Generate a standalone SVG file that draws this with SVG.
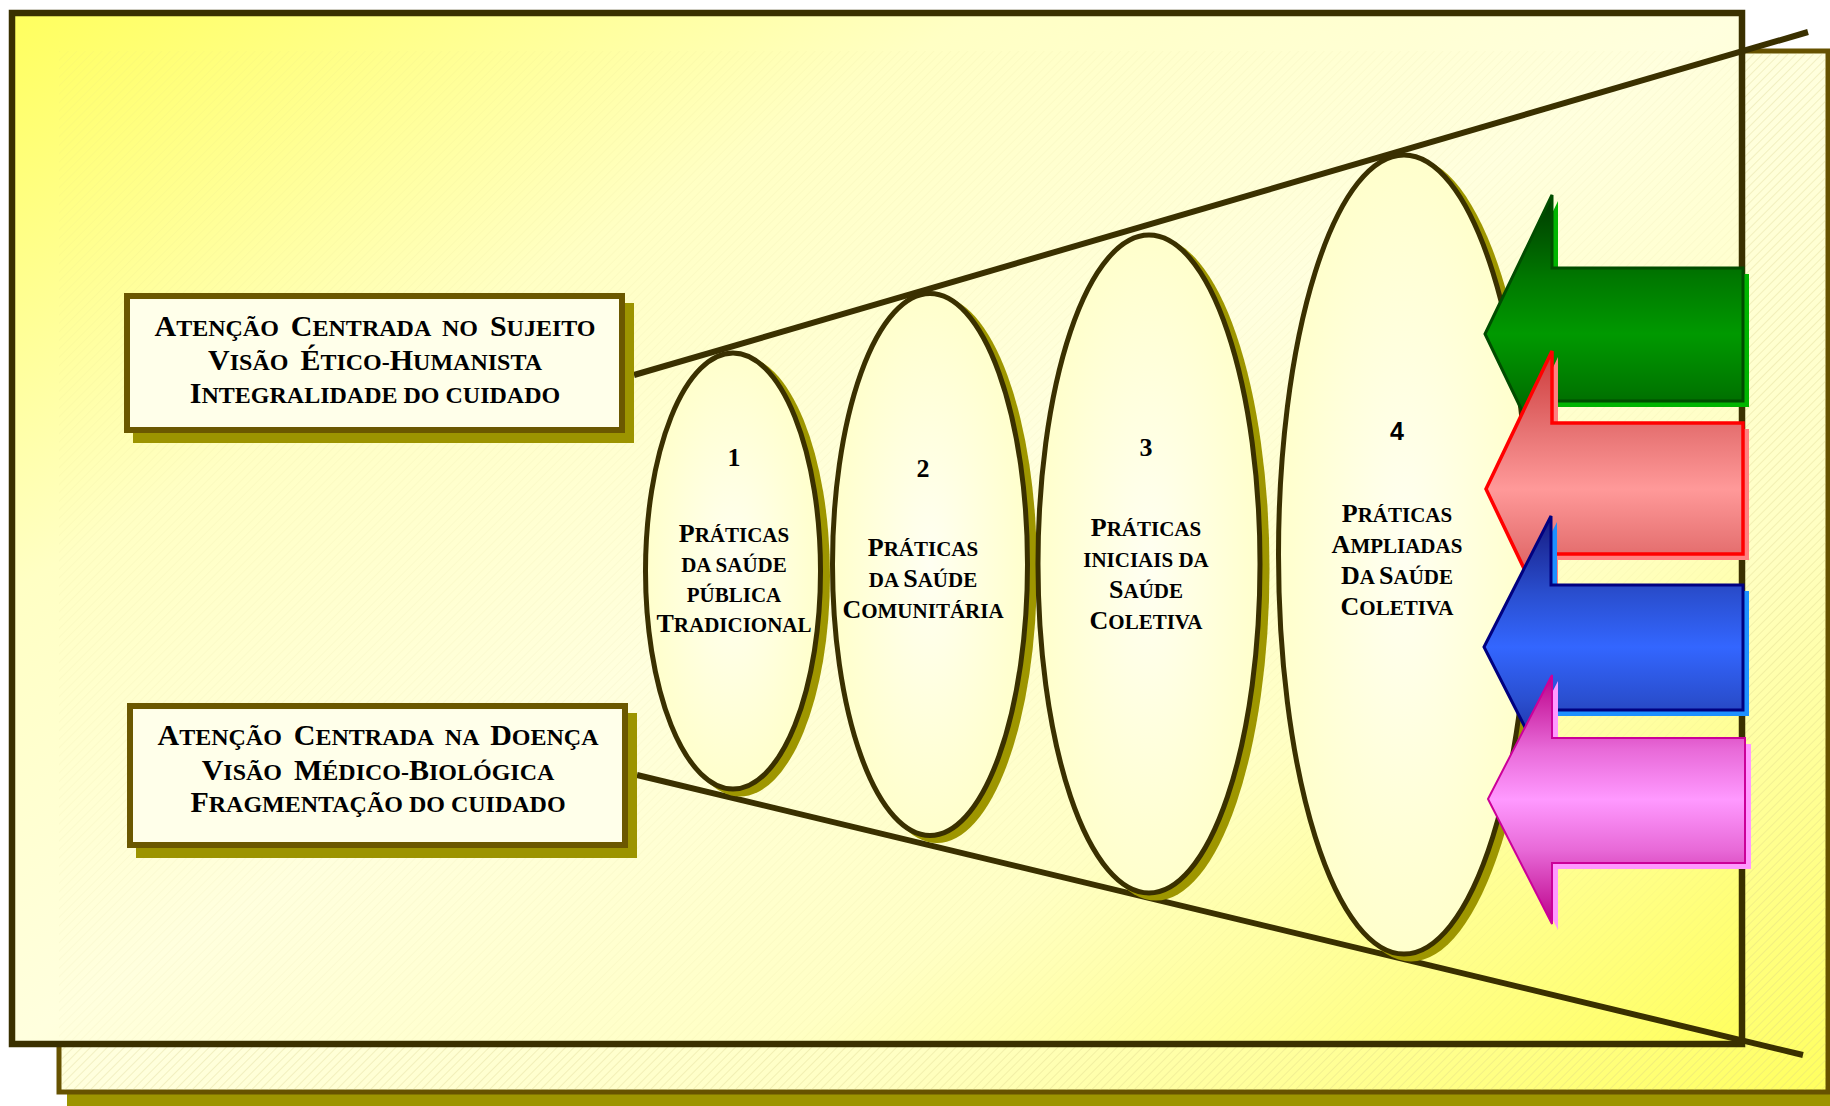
<svg xmlns="http://www.w3.org/2000/svg" width="1830" height="1106" viewBox="0 0 1830 1106">
<style>
.t{font-family:"Liberation Serif","Times New Roman",serif;font-weight:bold;fill:#000}
.bt{font-size:30px}
.bt .s{font-size:24px}
.et{font-size:26px}
.et .s{font-size:21px}
.num4{font-family:"Liberation Sans",Arial,sans-serif;font-weight:bold;font-size:25px;fill:#000}
.box{fill:#ffffea;stroke:#6b5800;stroke-width:6}
.bsh{fill:#9c9400}
.ell{fill:url(#eg);stroke:#3a3000;stroke-width:5}
.esh{fill:#9e9600}
.cone{stroke:#3a3000;stroke-width:6;fill:none;stroke-linecap:butt}
</style>
<defs>
<linearGradient id="bg" x1="0" y1="0" x2="1" y2="1">
<stop offset="0" stop-color="#ffff5e"/>
<stop offset="0.28" stop-color="#ffffc4"/>
<stop offset="0.5" stop-color="#ffffde"/>
<stop offset="0.72" stop-color="#ffffc4"/>
<stop offset="1" stop-color="#ffff5e"/>
</linearGradient>
<radialGradient id="eg" cx="0.5" cy="0.5" r="0.5">
<stop offset="0" stop-color="#fffff2"/>
<stop offset="1" stop-color="#ffffcc"/>
</radialGradient>
<pattern id="hatch" width="6" height="6" patternUnits="userSpaceOnUse" patternTransform="rotate(45)">
<line x1="0" y1="0" x2="0" y2="6" stroke="#d4cc84" stroke-width="1"/>
</pattern>
<linearGradient id="gG" x1="0" y1="0" x2="0" y2="1">
<stop offset="0" stop-color="#003800"/>
<stop offset="0.3" stop-color="#007800"/>
<stop offset="0.5" stop-color="#009900"/>
<stop offset="0.7" stop-color="#007800"/>
<stop offset="1" stop-color="#003800"/>
</linearGradient>
<linearGradient id="gR" x1="0" y1="0" x2="0" y2="1">
<stop offset="0" stop-color="#cc3a3a"/>
<stop offset="0.3" stop-color="#e87575"/>
<stop offset="0.5" stop-color="#ff9999"/>
<stop offset="0.7" stop-color="#e87575"/>
<stop offset="1" stop-color="#cc3a3a"/>
</linearGradient>
<linearGradient id="gB" x1="0" y1="0" x2="0" y2="1">
<stop offset="0" stop-color="#161a80"/>
<stop offset="0.3" stop-color="#2a4fd0"/>
<stop offset="0.5" stop-color="#3366ff"/>
<stop offset="0.7" stop-color="#2a4fd0"/>
<stop offset="1" stop-color="#161a80"/>
</linearGradient>
<linearGradient id="gP" x1="0" y1="0" x2="0" y2="1">
<stop offset="0" stop-color="#bb0088"/>
<stop offset="0.3" stop-color="#e86ad8"/>
<stop offset="0.5" stop-color="#ff99ff"/>
<stop offset="0.7" stop-color="#e86ad8"/>
<stop offset="1" stop-color="#bb0088"/>
</linearGradient>
</defs>

<g id="background">
<rect x="67" y="60" width="1780" height="1060" fill="#9c9400"/>
<rect x="59" y="51" width="1769" height="1041" fill="url(#bg)" stroke="#665200" stroke-width="5"/>
<rect x="61.5" y="53.5" width="1764" height="1036" fill="url(#hatch)" opacity="0.6"/>
<rect x="12" y="13" width="1730" height="1031" fill="url(#bg)" stroke="#3a3000" stroke-width="6.5"/>
<rect x="59" y="51" width="1680" height="990" fill="url(#hatch)" opacity="0.18"/>
</g>

<g id="connectors">
<line class="cone" x1="634" y1="375" x2="1808" y2="32"/>
<line class="cone" x1="637" y1="775" x2="1803" y2="1055"/>
</g>

<g id="box-sujeito">
<rect class="bsh" x="133" y="303" width="501" height="140"/>
<rect class="box" x="127" y="296" width="495" height="134"/>
<text class="t bt" x="375" y="336" text-anchor="middle" xml:space="preserve">A<tspan class="s">TENÇÃO  </tspan>C<tspan class="s">ENTRADA  NO  </tspan>S<tspan class="s">UJEITO</tspan></text>
<text class="t bt" x="375" y="370" text-anchor="middle" xml:space="preserve">V<tspan class="s">ISÃO  </tspan>É<tspan class="s">TICO-</tspan>H<tspan class="s">UMANISTA</tspan></text>
<text class="t bt" x="375" y="403" text-anchor="middle" xml:space="preserve">I<tspan class="s">NTEGRALIDADE DO CUIDADO</tspan></text>
</g>

<g id="box-doenca">
<rect class="bsh" x="136" y="713" width="501" height="145"/>
<rect class="box" x="130" y="706" width="495" height="139"/>
<text class="t bt" x="378" y="745" text-anchor="middle" xml:space="preserve">A<tspan class="s">TENÇÃO  </tspan>C<tspan class="s">ENTRADA  NA  </tspan>D<tspan class="s">OENÇA</tspan></text>
<text class="t bt" x="378" y="780" text-anchor="middle" xml:space="preserve">V<tspan class="s">ISÃO  </tspan>M<tspan class="s">ÉDICO-</tspan>B<tspan class="s">IOLÓGICA</tspan></text>
<text class="t bt" x="378" y="812" text-anchor="middle" xml:space="preserve">F<tspan class="s">RAGMENTAÇÃO DO CUIDADO</tspan></text>
</g>

<g id="ellipse-1">
<ellipse class="esh" cx="740" cy="576" rx="90" ry="220.5"/>
<ellipse class="ell" cx="733" cy="571" rx="87.5" ry="218"/>
<text class="t et" x="734" y="466" text-anchor="middle">1</text>
<text class="t et" x="734" y="542" text-anchor="middle">P<tspan class="s">RÁTICAS</tspan></text>
<text class="t et" x="734" y="572" text-anchor="middle"><tspan class="s">DA SAÚDE</tspan></text>
<text class="t et" x="734" y="602" text-anchor="middle"><tspan class="s">PÚBLICA</tspan></text>
<text class="t et" x="734" y="632" text-anchor="middle">T<tspan class="s">RADICIONAL</tspan></text>
</g>

<g id="ellipse-2">
<ellipse class="esh" cx="937" cy="569.5" rx="100" ry="273.5"/>
<ellipse class="ell" cx="930" cy="564.5" rx="97.5" ry="271"/>
<text class="t et" x="923" y="477" text-anchor="middle">2</text>
<text class="t et" x="923" y="556" text-anchor="middle">P<tspan class="s">RÁTICAS</tspan></text>
<text class="t et" x="923" y="587" text-anchor="middle"><tspan class="s">DA </tspan>S<tspan class="s">AÚDE</tspan></text>
<text class="t et" x="923" y="618" text-anchor="middle">C<tspan class="s">OMUNITÁRIA</tspan></text>
</g>

<g id="ellipse-3">
<ellipse class="esh" cx="1156" cy="569" rx="113.5" ry="331.5"/>
<ellipse class="ell" cx="1149" cy="564" rx="111" ry="329"/>
<text class="t et" x="1146" y="456" text-anchor="middle">3</text>
<text class="t et" x="1146" y="536" text-anchor="middle">P<tspan class="s">RÁTICAS</tspan></text>
<text class="t et" x="1146" y="567" text-anchor="middle"><tspan class="s">INICIAIS DA</tspan></text>
<text class="t et" x="1146" y="598" text-anchor="middle">S<tspan class="s">AÚDE</tspan></text>
<text class="t et" x="1146" y="629" text-anchor="middle">C<tspan class="s">OLETIVA</tspan></text>
</g>

<g id="ellipse-4">
<ellipse class="esh" cx="1411" cy="559.5" rx="128" ry="402"/>
<ellipse class="ell" cx="1404" cy="554.5" rx="125.5" ry="399.5"/>
<text class="num4" x="1397" y="440" text-anchor="middle">4</text>
<text class="t et" x="1397" y="522" text-anchor="middle">P<tspan class="s">RÁTICAS</tspan></text>
<text class="t et" x="1397" y="553" text-anchor="middle">A<tspan class="s">MPLIADAS</tspan></text>
<text class="t et" x="1397" y="584" text-anchor="middle">D<tspan class="s">A </tspan>S<tspan class="s">AÚDE</tspan></text>
<text class="t et" x="1397" y="615" text-anchor="middle">C<tspan class="s">OLETIVA</tspan></text>
</g>

<g id="arrow-green">
<polygon fill="#00b400" points="1491,340 1558,201 1558,274 1749,274 1749,407 1558,407 1558,479"/>
<polygon fill="url(#gG)" stroke="#004d00" stroke-width="3" points="1485,334 1552,195 1552,268 1743,268 1743,401 1552,401 1552,473"/>
</g>

<g id="arrow-red">
<polygon fill="#ff8080" points="1492,495 1558,357 1558,429 1749,429 1749,560 1558,560 1558,633"/>
<polygon fill="url(#gR)" stroke="#ff0000" stroke-width="3.5" points="1486,489 1552,351 1552,423 1743,423 1743,554 1552,554 1552,627"/>
</g>

<g id="arrow-blue">
<polygon fill="#1e90ff" points="1490,653 1557,522 1557,591 1749,591 1749,716 1557,716 1557,784"/>
<polygon fill="url(#gB)" stroke="#000080" stroke-width="3" points="1484,647 1551,516 1551,585 1743,585 1743,710 1551,710 1551,778"/>
</g>

<g id="arrow-pink">
<polygon fill="#ff99ff" points="1494,805 1558,681 1558,744 1751,744 1751,869 1558,869 1558,930"/>
<polygon fill="url(#gP)" stroke="#cc0099" stroke-width="2" points="1488,799 1552,675 1552,738 1745,738 1745,863 1552,863 1552,924"/>
</g>
</svg>
